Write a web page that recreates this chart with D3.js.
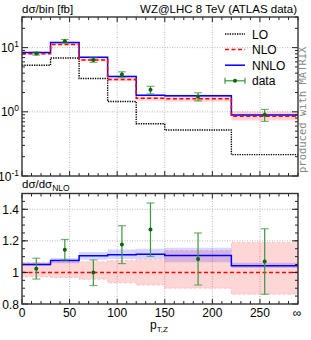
<!DOCTYPE html>
<html>
<head>
<meta charset="utf-8">
<script src="https://cdn.jsdelivr.net/npm/d3@7"></script>
<style>
  body { margin: 0; background: #fff; }
  svg { font-family: "Liberation Sans", Arial, sans-serif; }
  .grid { stroke: #aaa; stroke-width: 0.8; stroke-dasharray: 1,1.5; }
</style>
</head>
<body>
<div id="chart"></div>
<script>
// bins of pT,Z (last bin goes to infinity, drawn up to 290)
const binEdges = [0, 30, 60, 90, 120, 150, 220, 290];
const binCenters = [15, 45, 75, 105, 135, 185, 255];
const xTickValues = [0, 50, 100, 150, 200, 250];

// top panel, dsigma/bin [fb]
const loValues   = [5.3, 6.9, 3.3, 1.45, 0.65, 0.52, 0.215];
const nloValues  = [8.0, 11.2, 6.4, 3.2, 1.62, 1.6, 0.85];
const nnloValues = [8.4, 12.0, 7.05, 3.55, 1.81, 1.78, 0.89];
const dataValues = [8.1, 12.6, 6.4, 3.8, 2.2, 1.73, 0.9];
const dataErr    = [0.45, 0.8, 0.5, 0.4, 0.3, 0.25, 0.19];

// bottom panel, ratio to NLO
const nloBandLo  = [0.972, 0.968, 0.956, 0.934, 0.92, 0.90, 0.862];
const nloBandHi  = [1.064, 1.066, 1.068, 1.075, 1.082, 1.138, 1.19];
const nnloRatio  = [1.05, 1.075, 1.105, 1.112, 1.115, 1.107, 1.043];
const nnloBandLo = [1.04, 1.058, 1.08, 1.085, 1.085, 1.064, 1.028];
const nnloBandHi = [1.06, 1.092, 1.13, 1.145, 1.15, 1.156, 1.062];
const ratioData  = [1.023, 1.143, 1.0, 1.177, 1.272, 1.085, 1.07];
const ratioErrLo = [0.958, 1.079, 0.917, 1.056, 1.102, 0.92, 0.862];
const ratioErrHi = [1.09, 1.209, 1.079, 1.296, 1.44, 1.25, 1.277];

const width = 311, height = 340;
const left = 22, right = 298;

let svg = d3.select("#chart").append("svg")
  .attr("width", width).attr("height", height);

let x = d3.scaleLinear().domain([0, 290]).range([left, right]);
let yTop = d3.scaleLog().domain([0.1, 30]).range([176, 17]);
let yBot = d3.scaleLinear().domain([0.8, 1.5]).range([304, 193.5]);

// step helpers: one point per bin edge, last value repeated
function steps(vals) {
  let pts = vals.map((v, i) => [binEdges[i], v]);
  pts.push([binEdges[binEdges.length - 1], vals[vals.length - 1]]);
  return pts;
}
function bandSteps(lo, hi) {
  let pts = lo.map((v, i) => [binEdges[i], v, hi[i]]);
  pts.push([binEdges[binEdges.length - 1], lo[lo.length - 1], hi[hi.length - 1]]);
  return pts;
}

function drawGrid(g, yTop0, yBot0) {
  xTickValues.slice(1).forEach(v => {
    g.append("line").attr("class", "grid")
      .attr("x1", x(v)).attr("x2", x(v)).attr("y1", yTop0).attr("y2", yBot0);
  });
}

function frameAndTicks(g, yTop0, yBot0, yMajor, yMinor) {
  // x ticks, inward, top and bottom edges
  let minor = d3.range(0, 291, 10);
  minor.forEach(v => {
    let len = (v % 50 == 0) ? 5 : 3;
    g.append("line").attr("x1", x(v)).attr("x2", x(v))
      .attr("y1", yBot0).attr("y2", yBot0 - len).attr("stroke", "#222");
    g.append("line").attr("x1", x(v)).attr("x2", x(v))
      .attr("y1", yTop0).attr("y2", yTop0 + len).attr("stroke", "#222");
  });
  yMinor.forEach(py => {
    g.append("line").attr("x1", left).attr("x2", left + 3).attr("y1", py).attr("y2", py).attr("stroke", "#222");
    g.append("line").attr("x1", right).attr("x2", right - 3).attr("y1", py).attr("y2", py).attr("stroke", "#222");
  });
  yMajor.forEach(py => {
    g.append("line").attr("x1", left).attr("x2", left + 6).attr("y1", py).attr("y2", py).attr("stroke", "#222");
    g.append("line").attr("x1", right).attr("x2", right - 6).attr("y1", py).attr("y2", py).attr("stroke", "#222");
  });
  g.append("rect").attr("x", left).attr("y", yTop0)
    .attr("width", right - left).attr("height", yBot0 - yTop0)
    .attr("fill", "none").attr("stroke", "#333").attr("stroke-width", 1.4);
}

function drawErrors(g, y, vals, lo, hi) {
  vals.forEach((v, i) => {
    let cx = x(binCenters[i]);
    g.append("line").attr("x1", cx).attr("x2", cx)
      .attr("y1", y(lo[i])).attr("y2", y(hi[i]))
      .attr("stroke", "#3c963c").attr("stroke-width", 1.2);
    [lo[i], hi[i]].forEach(e => {
      g.append("line").attr("x1", cx - 4).attr("x2", cx + 4)
        .attr("y1", y(e)).attr("y2", y(e))
        .attr("stroke", "#3c963c").attr("stroke-width", 1.2).attr("opacity", 0.7);
    });
    g.append("circle").attr("cx", cx).attr("cy", y(v)).attr("r", 2).attr("fill", "#0a640a");
  });
}

let area = d3.area().curve(d3.curveStepAfter).x(d => x(d[0]));
let line = d3.line().curve(d3.curveStepAfter).x(d => x(d[0]));

// ---------- top panel ----------
let topPanel = svg.append("g");
drawGrid(topPanel, 17, 176);
[1, 10].forEach(v => {
  topPanel.append("line").attr("class", "grid")
    .attr("x1", left).attr("x2", right).attr("y1", yTop(v)).attr("y2", yTop(v));
});

// bands in top panel (relative to NLO)
topPanel.append("path")
  .datum(bandSteps(nloValues.map((v, i) => v * nloBandLo[i]), nloValues.map((v, i) => v * nloBandHi[i])))
  .attr("d", area.y0(d => yTop(d[1])).y1(d => yTop(d[2])))
  .attr("fill", "rgba(255,0,0,0.16)");
topPanel.append("path")
  .datum(bandSteps(nloValues.map((v, i) => v * nnloBandLo[i]), nloValues.map((v, i) => v * nnloBandHi[i])))
  .attr("d", area.y0(d => yTop(d[1])).y1(d => yTop(d[2])))
  .attr("fill", "rgba(0,0,255,0.16)");

topPanel.append("path").datum(steps(loValues))
  .attr("d", line.y(d => yTop(d[1])))
  .attr("fill", "none").attr("stroke", "#000").attr("stroke-width", 1.4)
  .attr("stroke-dasharray", "1.3,1.1");
topPanel.append("path").datum(steps(nnloValues))
  .attr("d", line.y(d => yTop(d[1])))
  .attr("fill", "none").attr("stroke", "#0000ff").attr("stroke-width", 1.5);
topPanel.append("path").datum(steps(nloValues))
  .attr("d", line.y(d => yTop(d[1])))
  .attr("fill", "none").attr("stroke", "#ff0000").attr("stroke-width", 1.5)
  .attr("stroke-dasharray", "4,2.5");

drawErrors(topPanel, yTop, dataValues,
  dataValues.map((v, i) => v - dataErr[i]), dataValues.map((v, i) => v + dataErr[i]));

let topMinor = [];
[0.1, 1, 10].forEach(dec => {
  for (let k = 2; k <= 9; k++) if (dec * k <= 30) topMinor.push(yTop(dec * k));
});
frameAndTicks(topPanel, 17, 176, [0.1, 1, 10].map(v => yTop(v)), topMinor);

// y labels top
[[10, "1"], [1, "0"], [0.1, "-1"]].forEach(([v, e]) => {
  let t = topPanel.append("text").attr("x", 19).attr("y", yTop(v) + 4.5)
    .attr("text-anchor", "end").attr("font-size", 12);
  t.append("tspan").text("10");
  t.append("tspan").attr("dy", -5).attr("font-size", 8.5).text(e);
});

// legend
const legendItems = ["LO", "NLO", "NNLO", "data"];
let legend = topPanel.append("g");
legendItems.forEach((name, i) => {
  let ly = 34 + i * 15.6;
  let l = legend.append("line").attr("x1", 225).attr("x2", 245).attr("y1", ly).attr("y2", ly);
  if (name == "LO") l.attr("stroke", "#000").attr("stroke-width", 1.4).attr("stroke-dasharray", "1.3,1.1");
  if (name == "NLO") l.attr("stroke", "#ff0000").attr("stroke-width", 1.5).attr("stroke-dasharray", "4,2.5");
  if (name == "NNLO") l.attr("stroke", "#0000ff").attr("stroke-width", 1.5);
  if (name == "data") {
    l.attr("stroke", "#3c963c").attr("stroke-width", 1.2);
    [225, 245].forEach(cx => legend.append("line").attr("x1", cx).attr("x2", cx)
      .attr("y1", ly - 3).attr("y2", ly + 3).attr("stroke", "#3c963c").attr("stroke-width", 1.2));
    legend.append("circle").attr("cx", 235).attr("cy", ly).attr("r", 2).attr("fill", "#0a640a");
  }
  legend.append("text").attr("x", 252).attr("y", ly + 4.5).attr("font-size", 12).text(name);
});

svg.append("text").attr("x", 22).attr("y", 13).attr("font-size", 11.5).text("dσ/bin [fb]");
svg.append("text").attr("x", 297).attr("y", 13).attr("font-size", 11.5)
  .attr("text-anchor", "end").text("WZ@LHC 8 TeV (ATLAS data)");

svg.append("text")
  .attr("transform", "translate(306,173) rotate(-90)")
  .attr("font-family", "'DejaVu Sans Mono', monospace").attr("font-size", 10.5)
  .attr("fill", "#888").text("produced with MATRIX");

// ---------- bottom panel ----------
let botPanel = svg.append("g");
drawGrid(botPanel, 193.5, 304);
[1.2, 1.4].forEach(v => {
  botPanel.append("line").attr("class", "grid")
    .attr("x1", left).attr("x2", right).attr("y1", yBot(v)).attr("y2", yBot(v));
});

botPanel.append("path").datum(bandSteps(nloBandLo, nloBandHi))
  .attr("d", area.y0(d => yBot(d[1])).y1(d => yBot(d[2])))
  .attr("fill", "rgba(255,0,0,0.16)")
  .attr("stroke", "rgba(255,0,0,0.25)").attr("stroke-width", 0.7).attr("stroke-dasharray", "3,2");
botPanel.append("path").datum(bandSteps(nnloBandLo, nnloBandHi))
  .attr("d", area.y0(d => yBot(d[1])).y1(d => yBot(d[2])))
  .attr("fill", "rgba(0,0,255,0.16)");

botPanel.append("path").datum(steps(nnloRatio))
  .attr("d", line.y(d => yBot(d[1])))
  .attr("fill", "none").attr("stroke", "#0000ff").attr("stroke-width", 1.5);
botPanel.append("path").datum(steps(nloValues.map(() => 1)))
  .attr("d", line.y(d => yBot(d[1])))
  .attr("fill", "none").attr("stroke", "#ff0000").attr("stroke-width", 1.5)
  .attr("stroke-dasharray", "4,2.5");

drawErrors(botPanel, yBot, ratioData, ratioErrLo, ratioErrHi);

frameAndTicks(botPanel, 193.5, 304,
  [0.8, 1, 1.2, 1.4].map(v => yBot(v)),
  d3.range(0.85, 1.5, 0.05).map(v => yBot(v)));

[0.8, 1, 1.2, 1.4].forEach(v => {
  botPanel.append("text").attr("x", 19).attr("y", yBot(v) + 4.5)
    .attr("text-anchor", "end").attr("font-size", 12).text(v == 1 ? "1" : v.toFixed(1));
});

let rl = svg.append("text").attr("x", 22).attr("y", 188).attr("font-size", 11.5);
rl.append("tspan").text("dσ/dσ");
rl.append("tspan").attr("dy", 3).attr("font-size", 8.5).text("NLO");

// x labels
xTickValues.forEach(v => {
  svg.append("text").attr("x", x(v)).attr("y", 317).attr("text-anchor", "middle")
    .attr("font-size", 12).text(v);
});
svg.append("text").attr("x", 297).attr("y", 317).attr("text-anchor", "middle")
  .attr("font-size", 12).text("∞");

let xl = svg.append("text").attr("x", 150).attr("y", 329).attr("font-size", 12);
xl.append("tspan").text("p");
xl.append("tspan").attr("dy", 3).attr("font-size", 8).text("T,Z");
</script>
</body>
</html>
